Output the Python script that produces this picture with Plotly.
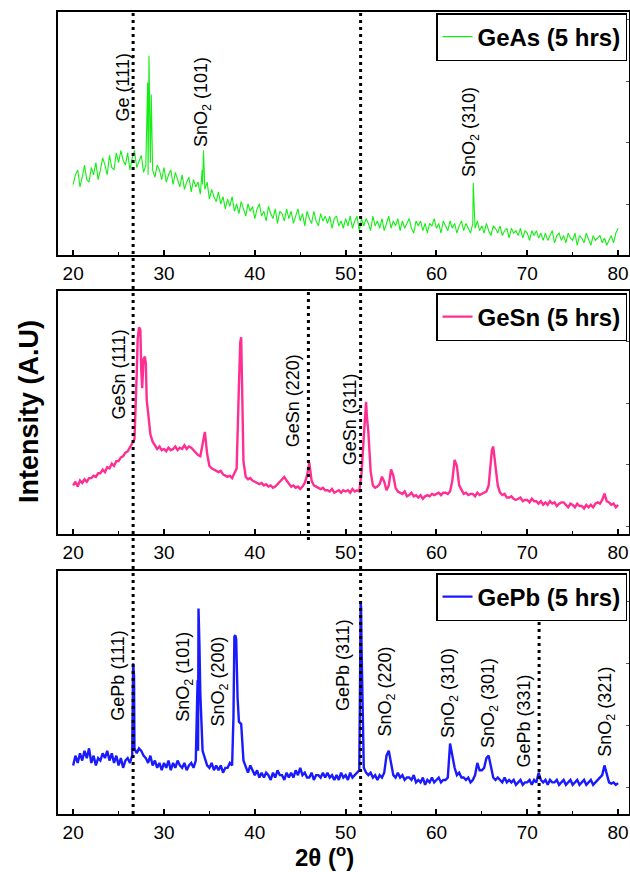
import plotly.graph_objects as go

# ---------------- data (intensity in a.u., 0-100 per panel) ----------------
two_theta_start = 20.0
two_theta_step = 0.25

geas_base = [
    29, 33, 35, 28,  32, 37, 31, 30,  36, 33, 38, 31,  35, 40, 37, 33,
    41, 36, 35, 42,  38, 43, 39, 37,  42, 35, 40, 43,  36, 39, 41, 34,
    37, 33, 38, 35,  32, 37, 35, 31,  36, 30, 33, 35,  29, 34, 31, 28,
    33, 27, 30, 32,  26, 31, 28, 30,  25, 29, 27, 30,  23, 27, 24, 22,
    26, 21, 24, 19,  23, 20, 24, 18,  21, 17, 22, 19,  16, 21, 18, 20,
    15, 19, 21, 16,  18, 14, 20, 17,  15, 19, 13, 18,  17, 14, 19, 15,
    18, 13, 16, 19,  14, 17, 12, 18,  15, 13, 18, 14,  12, 17, 14, 16,
    13, 16, 11, 15,  16, 12, 14, 11,  15, 12, 16, 11,  14, 16, 10, 15,
    12, 15, 13, 10,  16, 12, 14, 11,  15, 10, 13, 16,  11, 14, 12, 15,
    10, 14, 11, 13,  15, 11, 9, 14,   12, 14, 10, 13,  9, 13, 12, 15,
    11, 13, 9, 14,   12, 10, 14, 11,  13, 9, 12, 14,   10, 13, 11, 9,
    13, 11, 14, 10,  12, 9, 13, 10,   8, 12, 11, 9,    12, 8, 10, 11,
    7, 11, 9, 10,    8, 11, 7, 10,    9, 6, 10, 8,     10, 7, 9, 6,
    9, 6, 8, 10,     5, 8, 9, 6,      8, 5, 9, 7,      6, 9, 4, 8,
    7, 5, 9, 6,      4, 8, 6, 7,      8, 5, 7, 4,      6, 8, 5, 9,
    11,
]
geas_spike_x = [28.2, 28.35, 28.6, 34.2, 34.35, 64.05]
geas_spike_y = [71, 82, 66, 35, 43, 29.6]

gesn_base = [
    20, 21.5, 19.5, 22,  21, 22.5, 21.5, 23,  23, 24, 23.5, 25,  25, 26.5, 25.5, 27.5,
    27, 29, 28, 30,  30, 31.5, 32, 33.5,  34, 35.5, 37, 39,  66, 85, 67, 72,
    70, 50, 41, 38,  36.5, 35, 36, 34.5,  35, 34, 35.5, 34.5,  35, 36, 34.5, 35.5,
    35, 36.5, 35, 36,  35.5, 34.5, 33.5, 32.5,  32, 38, 42, 33,  28, 27, 26.5, 26,
    25.5, 26, 24.5, 24,  23.5, 24, 23, 25,  27, 61, 81, 30,  23.5, 22.5, 23, 22,
    21.5, 21, 20.5, 21,  20, 20.5, 19.5, 20,  19, 19.5, 20.5, 21.5,  22.5, 23.5, 22, 20.5,
    19.5, 20, 19, 19.5,  18.5, 19.5, 21, 24,  29.4, 22, 20, 19.5,  19, 18.5, 19, 18,
    18, 17.5, 18.5, 17,  17.5, 18, 17, 18,  17.5, 18, 17, 18.5,  17.5, 18, 17.5, 25,
    40, 54.4, 42, 26,  20, 19, 19.5, 20.5,  23.6, 21.5, 18, 20,  26.6, 24, 19, 17.5,
    17, 16.5, 17.5, 15.5,  16, 17, 15.5, 16,  15, 16, 14.5, 15.5,  16, 15.5, 16.5, 16,
    16.5, 17, 16, 17,  17, 16.5, 17.5, 22,  30.5, 28, 20, 18,  16.5, 17, 16, 16.5,
    16.5, 15.5, 17, 16,  16.5, 17, 17.5, 20,  32, 36, 27, 20,  17, 16, 16.5, 15,
    15, 15.5, 14.5, 14,  14.5, 15, 13.5, 14,  14, 13, 14.5, 13.5,  13.5, 12.5, 13.5, 12,
    13, 12, 13.5, 12.5,  13, 11.5, 12.5, 13,  13, 12, 11, 12.5,  12, 11, 12.5, 11.5,
    11.5, 10.5, 12, 11,  12, 11, 12.5, 13,  12.5, 14, 16.6, 13.5,  13, 12, 12.5, 11,
    12,
]
gesn_spike_x = [27.1, 27.4, 27.6, 27.9, 28.1, 38.4, 38.6, 52.15, 52.35, 66.1]
gesn_spike_y = [80, 84, 60, 73, 55, 79, 58, 52, 48, 34.5]

gepb_base = [
    20, 24, 21, 25,  22, 26, 23, 27,  21, 24, 20, 23,  22, 25, 23, 26,
    22, 25, 21, 24,  20, 23, 19, 22,  23, 21, 24, 27,  25, 27, 26, 24,
    23, 21, 24, 20,  22, 19, 21, 18,  21, 19, 22, 18,  21, 19, 22, 20,
    19, 21, 18, 20,  21, 19, 22, 26,  49.6, 26, 23, 20,  19, 21, 18, 20,
    18, 20, 17, 19,  19, 21, 20, 73,  55, 38, 37, 22,  19, 17, 20, 18,
    16, 18, 15, 17,  15, 17, 16, 14,  17, 15, 18, 16,  16, 14, 17, 15,
    17, 15, 18, 16,  19, 16, 17, 15,  15, 17, 14, 16,  16, 15, 17, 15,
    17, 15, 16, 14,  16, 14, 17, 15,  16, 14, 17, 15,  16, 17, 18, 69,
    19, 17, 16, 17,  15, 16, 14, 16,  15, 17, 24, 26,  20, 16, 15, 17,
    15, 16, 14, 15,  15, 14, 16, 13,  14, 13, 15, 12,  14, 13, 15, 13,
    14, 15, 13, 14,  14, 15, 29, 24,  19, 16, 17, 15,  15, 14, 15, 13,
    14, 16, 21, 18,  18, 19, 23, 24,  19, 15, 14, 15,  14, 13, 15, 13,
    14, 13, 14, 12,  13, 14, 12, 13,  13, 14, 12, 14,  13, 17, 14, 13,
    14, 12, 14, 13,  13, 14, 12, 13,  14, 12, 13, 14,  12, 13, 14, 12,
    13, 14, 12, 13,  14, 12, 13, 14,  15, 16, 20, 16,  13, 12.5, 13, 12,
    12.7,
]
gepb_spike_x = [26.55, 26.6, 26.7, 33.7, 33.8, 33.9, 37.65, 37.85, 37.95, 38.1,
                51.6, 51.65, 51.7, 51.85, 51.9]
gepb_spike_y = [45, 62, 57, 55, 84.6, 70, 40, 73.6, 72, 48,
                60, 87.4, 85, 50, 32]

series_names = ["GeAs (5 hrs)", "GeSn (5 hrs)", "GePb (5 hrs)"]
series_colors = ["#14ee14", "#ff2e93", "#1a1aff"]

# peak labels: (panel, text, 2theta, intensity)
peak_labels = [
    (1, "Ge (111)", 25.5, 69),
    (1, "SnO<sub>2</sub> (101)", 34.3, 63),
    (1, "SnO<sub>2</sub> (310)", 63.7, 50.6),
    (2, "GeSn (111)", 25.1, 65.8),
    (2, "GeSn (220)", 44.2, 55),
    (2, "GeSn (311)", 50.5, 47.3),
    (3, "GePb (111)", 24.9, 56.8),
    (3, "SnO<sub>2</sub> (101)", 32.3, 56.4),
    (3, "SnO<sub>2</sub> (200)", 36.1, 54.7),
    (3, "GePb (311)", 49.7, 61.3),
    (3, "SnO<sub>2</sub> (220)", 54.5, 50.2),
    (3, "SnO<sub>2</sub> (310)", 61.5, 49.8),
    (3, "SnO<sub>2</sub> (301)", 65.9, 45.7),
    (3, "GePb (331)", 69.6, 38.3),
    (3, "SnO<sub>2</sub> (321)", 78.75, 42),
]

x_tick_vals = [20, 30, 40, 50, 60, 70, 80]
x_tick_text = ["20", "30", "40", "50", "60", "70", "80"]


def build(base, sx, sy):
    gx = [round(two_theta_start + i * two_theta_step, 3) for i in range(len(base))]
    pts = sorted(zip(gx + list(sx), list(base) + list(sy)), key=lambda p: p[0])
    return [p[0] for p in pts], [p[1] for p in pts]


data = [
    build(geas_base, geas_spike_x, geas_spike_y),
    build(gesn_base, gesn_spike_x, gesn_spike_y),
    build(gepb_base, gepb_spike_x, gepb_spike_y),
]
line_widths = [1.1, 2.4, 2.4]

FONT = "Liberation Sans, Arial, sans-serif"

fig = go.Figure()
legend_keys = ["legend", "legend2", "legend3"]
for i, (xs, ys) in enumerate(data):
    fig.add_trace(go.Scatter(
        x=xs, y=ys, mode="lines", name=series_names[i],
        line=dict(color=series_colors[i], width=line_widths[i]),
        xaxis="x" if i == 0 else f"x{i+1}",
        yaxis="y" if i == 0 else f"y{i+1}",
        legend=legend_keys[i], showlegend=True,
    ))

# Plot area on screen: x 58..629, y 12..814 (body margin removed by post_script).
W, H = 630, 872
ML, MR, MT, MB = 58, 1, 12, 58
PW = W - ML - MR
PH = H - MT - MB


def py(screen_y):
    return (814 - screen_y) / PH


def px(screen_x):
    return (screen_x - 58) / PW


domains = [[py(255), 1.0], [py(534), py(291)], [0.0, py(571)]]
ytick0 = [20.6, 2.9, 11.1]

layout = dict(
    width=W, height=H,
    margin=dict(l=ML, r=MR, t=MT, b=MB),
    plot_bgcolor="white", paper_bgcolor="white",
    font=dict(family=FONT, color="black"),
)

for i in range(3):
    xk = "xaxis" if i == 0 else f"xaxis{i+1}"
    yk = "yaxis" if i == 0 else f"yaxis{i+1}"
    ya = "y" if i == 0 else f"y{i+1}"
    xa = "x" if i == 0 else f"x{i+1}"
    layout[xk] = dict(
        domain=[0, 1], anchor=ya, range=[18.33, 81.2],
        tickvals=x_tick_vals, ticktext=x_tick_text,
        ticks="inside", ticklen=5, tickwidth=1.5, tickcolor="black",
        minor=dict(dtick=5, tick0=25, ticks="inside", ticklen=3, tickwidth=1.2, tickcolor="black"),
        showline=True, linecolor="black", linewidth=1.6, mirror=True,
        showgrid=False, zeroline=False,
        tickfont=dict(size=19, family=FONT, color="black"),
    )
    layout[yk] = dict(
        domain=domains[i], anchor=xa, range=[0, 100], side="right",
        tick0=ytick0[i], dtick=25.5,
        ticks="inside", ticklen=3, tickwidth=1.2, tickcolor="#555",
        showticklabels=False,
        showline=True, linecolor="black", linewidth=1.6, mirror=True,
        showgrid=False, zeroline=False,
    )

legend_tops = [py(13), py(293), py(573)]
for i, key in enumerate(legend_keys):
    layout[key] = dict(
        x=px(627), xanchor="right",
        y=legend_tops[i], yanchor="top",
        bgcolor="white", bordercolor="black", borderwidth=1.5,
        font=dict(size=24, family=FONT, color="black", weight="bold"),
    )

fig.update_layout(**layout)

# dotted reference lines
dot = dict(color="black", width=3, dash="3px,4px")
fig.add_shape(type="line", xref="x", yref="paper", x0=26.6, x1=26.6, y0=0, y1=1, line=dot)
fig.add_shape(type="line", xref="x", yref="paper", x0=51.65, x1=51.65, y0=0, y1=1, line=dot)
fig.add_shape(type="line", xref="x", yref="paper", x0=45.9, x1=45.9, y0=py(540), y1=py(291), line=dot)
fig.add_shape(type="line", xref="x", yref="paper", x0=71.3, x1=71.3, y0=0, y1=py(620), line=dot)

# peak labels
for panel, text, xv, yv in peak_labels:
    fig.add_annotation(
        x=xv, y=yv, xref="x" if panel == 1 else f"x{panel}",
        yref="y" if panel == 1 else f"y{panel}",
        text=text, textangle=-90, showarrow=False,
        xanchor="center", yanchor="middle",
        font=dict(size=18, family=FONT, color="black"),
    )

# axis titles
fig.add_annotation(
    x=px(324), y=py(856), xref="paper", yref="paper",
    xanchor="center", yanchor="middle",
    text="<b>2θ (<sup>o</sup>)</b>", showarrow=False,
    font=dict(size=24, family=FONT, color="black"),
)
fig.add_annotation(
    x=px(29), y=py(412), xref="paper", yref="paper",
    xanchor="center", yanchor="middle",
    text="<b>Intensity (A.U)</b>", textangle=-90, showarrow=False,
    font=dict(size=27, family=FONT, color="black"),
)

fig.write_html(
    "out.html",
    config={"displayModeBar": False},
    post_script="document.body.style.margin='0';document.body.style.overflow='hidden';"
                "document.documentElement.style.overflow='hidden';",
)
